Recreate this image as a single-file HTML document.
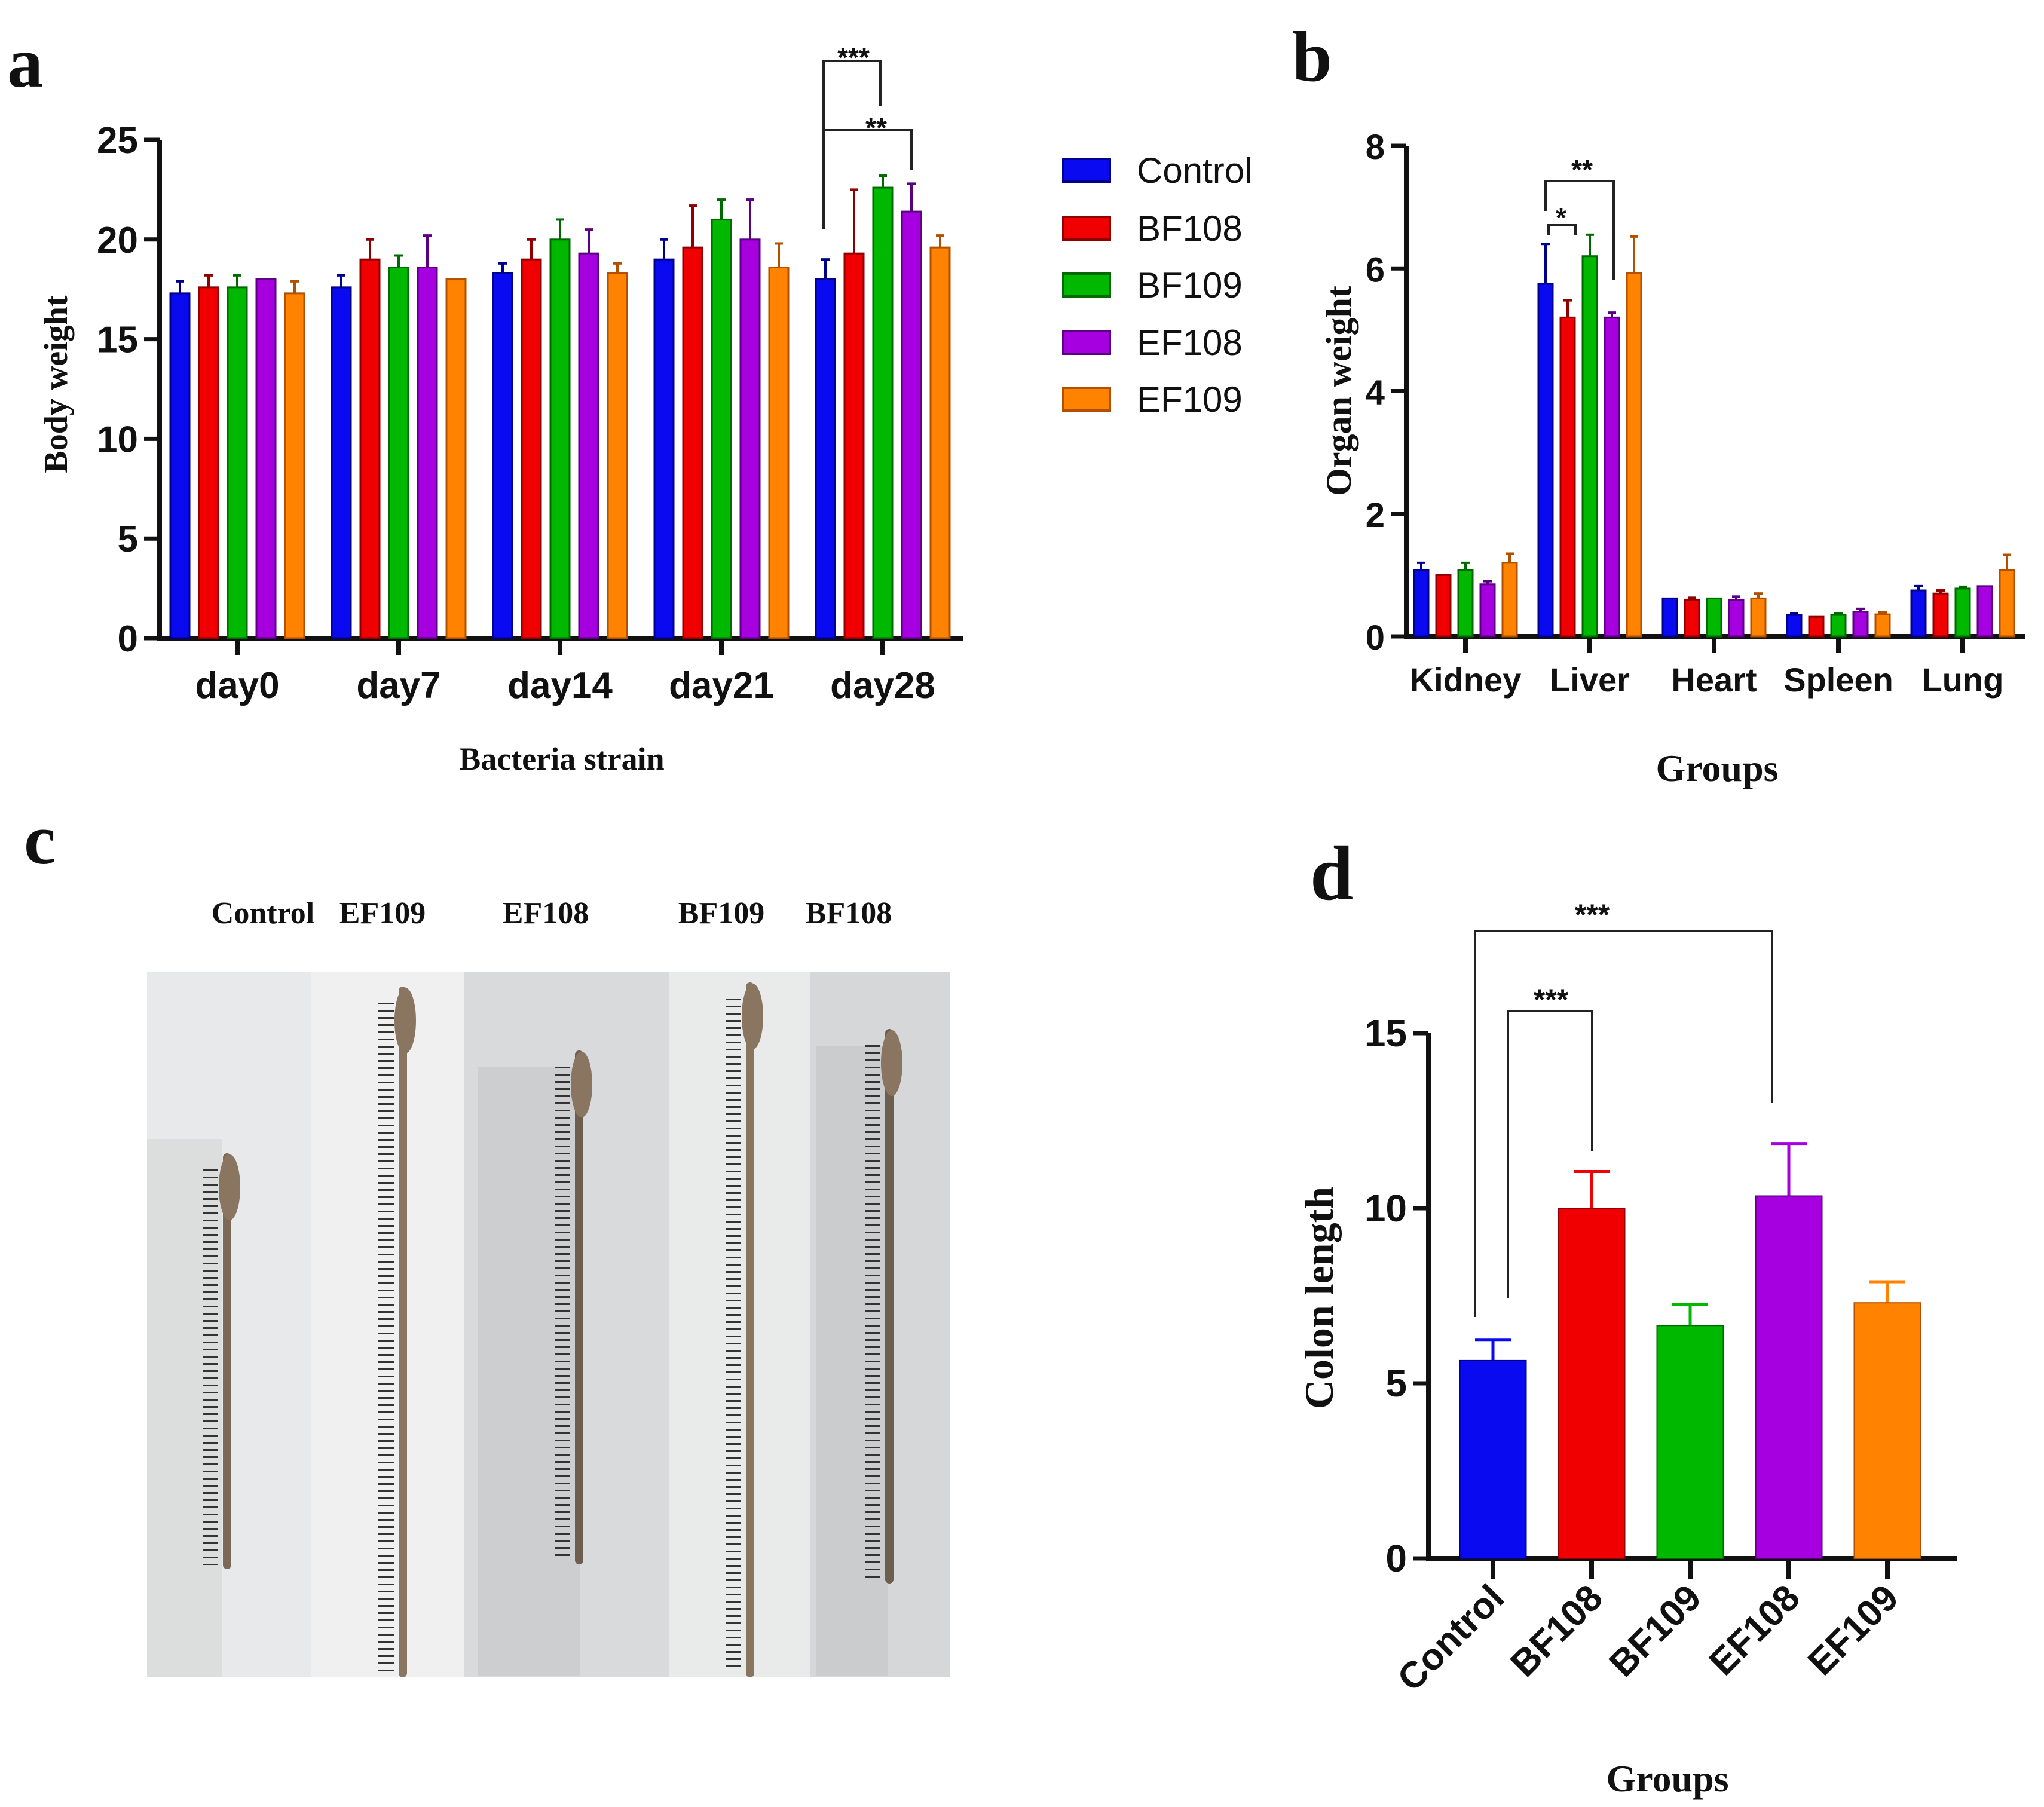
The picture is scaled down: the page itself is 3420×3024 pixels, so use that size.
<!DOCTYPE html>
<html><head><meta charset="utf-8"><style>
html,body{margin:0;padding:0;background:#fff;}
svg{display:block;}
.tick{font-family:"Liberation Sans",sans-serif;font-weight:bold;fill:#111;}
.ser{font-family:"Liberation Serif",serif;font-weight:bold;fill:#111;}
</style></head><body>
<svg id="fig" width="3420" height="3024" viewBox="0 0 3420 3024" xmlns="http://www.w3.org/2000/svg">
<rect width="3420" height="3024" fill="#fff"/>
<text class="ser" x="12" y="145" font-size="120">a</text>
<text class="ser" x="2162" y="135" font-size="120">b</text>
<text class="ser" x="40" y="1445" font-size="120">c</text>
<text class="ser" x="2192" y="1505" font-size="130">d</text>
<g id="gc"></g>
<g id="ga"></g>
<g id="gb"></g>
<g id="gd"></g>
</svg>
<script>
const groupNames = ["Control","BF108","BF109","EF108","EF109"];
const colors = ["#0a0af0","#f00000","#00b800","#a600e0","#ff8200"];
const strokeCols = ["#00008a","#900000","#006a00","#5a0080","#b05000"];
// Panel a
const daysA = ["day0","day7","day14","day21","day28"];
const valsA = [[17.3,17.6,17.6,18.0,17.3],[17.6,19.0,18.6,18.6,18.0],[18.3,19.0,20.0,19.3,18.3],[19.0,19.6,21.0,20.0,18.6],[18.0,19.3,22.6,21.4,19.6]];
const errA = [[0.6,0.6,0.6,0,0.6],[0.6,1.0,0.6,1.6,0],[0.5,1.0,1.0,1.2,0.5],[1.0,2.1,1.0,2.0,1.2],[1.0,3.2,0.6,1.4,0.6]];
const ticksA = [0,5,10,15,20,25];
// Panel b
const organs = ["Kidney","Liver","Heart","Spleen","Lung"];
const valsB = [[1.08,1.0,1.08,0.85,1.2],[5.75,5.2,6.2,5.2,5.92],[0.62,0.6,0.62,0.6,0.62],[0.35,0.32,0.35,0.4,0.36],[0.75,0.7,0.78,0.82,1.08]];
const errB = [[0.12,0,0.12,0.05,0.15],[0.65,0.28,0.35,0.08,0.6],[0,0.03,0,0.05,0.08],[0.03,0,0.03,0.05,0.03],[0.07,0.05,0.03,0,0.25]];
const ticksB = [0,2,4,6,8];
// Panel d
const valsD = [5.65,10.0,6.65,10.35,7.3];
const errD = [0.6,1.05,0.6,1.5,0.6];
const ticksD = [0,5,10,15];

const NS="http://www.w3.org/2000/svg";
function mk(parent,tag,attrs,text){const e=document.createElementNS(NS,tag);for(const k in attrs)e.setAttribute(k,attrs[k]);if(text!==undefined)e.textContent=text;parent.appendChild(e);return e;}

function groupedChart(g,cfg){
  const y=v=>cfg.y0-(v/cfg.ymax)*(cfg.y0-cfg.ytop);
  const ax=mk(g,'path',{d:`M${cfg.x0} ${cfg.ytop} V${cfg.y0} H${cfg.xend}`,stroke:'#111','stroke-width':8,fill:'none'});
  
  
  cfg.ticks.forEach(t=>{
    mk(g,'line',{x1:cfg.x0-26,x2:cfg.x0,y1:y(t),y2:y(t),stroke:'#111','stroke-width':7});
    const tl=mk(g,'text',{class:'tick',x:cfg.x0-36,y:y(t)+22,'font-size':cfg.tfs,'text-anchor':'end'},t);
    
    
  });
  cfg.cats.forEach((c,i)=>{
    const cx=cfg.c0+i*cfg.cstep;
    mk(g,'line',{x1:cx,x2:cx,y1:cfg.y0,y2:cfg.y0+28,stroke:'#111','stroke-width':8});
    const cl=mk(g,'text',{class:'tick',x:cx,y:cfg.y0+cfg.catDy,'font-size':cfg.cfs,'text-anchor':'middle'},c);
    
    
    cfg.vals[i].forEach((v,j)=>{
      const bx=cx+(j-2)*cfg.pitch-cfg.bw/2;
      const e=cfg.errs[i][j];
      if(e>0){
        mk(g,'line',{x1:bx+cfg.bw/2,x2:bx+cfg.bw/2,y1:y(v),y2:y(v+e),stroke:strokeCols[j],'stroke-width':4});
        mk(g,'line',{x1:bx+cfg.bw/2-7,x2:bx+cfg.bw/2+7,y1:y(v+e),y2:y(v+e),stroke:strokeCols[j],'stroke-width':4});
      }
      const r=mk(g,'rect',{x:bx,y:y(v),width:cfg.bw,height:cfg.y0-y(v),fill:colors[j],stroke:strokeCols[j],'stroke-width':3});
      
      
    });
  });
}
function bracket(g,x1,x2,ytop,yl,yr,label,lx,ly,fs){
  mk(g,'path',{d:`M${x1} ${yl} V${ytop} H${x2} V${yr}`,stroke:'#222','stroke-width':4,fill:'none'});
  const t=mk(g,'text',{class:'tick',x:lx,y:ly,'font-size':fs,'text-anchor':'middle'},label);
  
  
}

// Panel a
const ga=document.getElementById('ga');
groupedChart(ga,{x0:267,xend:1611,ytop:234,y0:1068,ymax:25,ticks:ticksA,cats:daysA,vals:valsA,errs:errA,c0:397,cstep:270,pitch:48,bw:32,tfs:62,cfs:62,catDy:100});
bracket(ga,1378,1473,102,383,177,"***",1428,112,46);
bracket(ga,1378,1525,218,383,284,"**",1466,230,46);
let t=mk(ga,'text',{class:'ser',x:940,y:1288,'font-size':54,'text-anchor':'middle'},'Bacteria strain');

t=mk(ga,'text',{class:'ser',x:0,y:0,'font-size':56,'text-anchor':'middle',transform:'translate(112,643) rotate(-90)'},'Body weight');

const legYs=[285,382,477,573,668];
groupNames.forEach((n,j)=>{
  const s=mk(ga,'rect',{x:1779,y:legYs[j]-19,width:78,height:38,fill:colors[j],stroke:strokeCols[j],'stroke-width':4});
  
  
  const lt=mk(ga,'text',{x:1902,y:legYs[j]+21,'font-size':60,'font-family':'Liberation Sans, sans-serif',fill:'#111'},n);
  
  
});

// Panel b
const gb=document.getElementById('gb');
groupedChart(gb,{x0:2353,xend:3388,ytop:244,y0:1065,ymax:8,ticks:ticksB,cats:organs,vals:valsB,errs:errB,c0:2452,cstep:208,pitch:37,bw:24,tfs:58,cfs:56,catDy:92});
bracket(gb,2586,2700,303,353,469,"**",2647,300,46);
bracket(gb,2591,2636,377,394,394,"*",2612,380,46);
t=mk(gb,'text',{class:'ser',x:2873,y:1307,'font-size':64,'text-anchor':'middle'},'Groups');

t=mk(gb,'text',{class:'ser',x:0,y:0,'font-size':60,'text-anchor':'middle',transform:'translate(2260,654) rotate(-90)'},'Organ weight');


// Panel d
const gd=document.getElementById('gd');
(function(){
  const x0=2390,xend=3275,ytop=1729,y0=2608,ymax=15,c0=2498,cstep=165,bw=111;
  const y=v=>y0-(v/ymax)*(y0-ytop);
  const ax=mk(gd,'path',{d:`M${x0} ${ytop} V${y0} H${xend}`,stroke:'#111','stroke-width':8,fill:'none'});
  
  ticksD.forEach(tk=>{
    mk(gd,'line',{x1:x0-26,x2:x0,y1:y(tk),y2:y(tk),stroke:'#111','stroke-width':7});
    const tl=mk(gd,'text',{class:'tick',x:x0-36,y:y(tk)+22,'font-size':64,'text-anchor':'end'},tk);
    
  });
  groupNames.forEach((n,i)=>{
    const cx=c0+i*cstep;
    mk(gd,'line',{x1:cx,x2:cx,y1:y0,y2:y0+34,stroke:'#111','stroke-width':8});
    const e=errD[i],v=valsD[i];
    mk(gd,'line',{x1:cx,x2:cx,y1:y(v),y2:y(v+e),stroke:colors[i],'stroke-width':5});
    mk(gd,'line',{x1:cx-30,x2:cx+30,y1:y(v+e),y2:y(v+e),stroke:colors[i],'stroke-width':5});
    const r=mk(gd,'rect',{x:cx-bw/2,y:y(v),width:bw,height:y0-y(v),fill:colors[i],stroke:strokeCols[i],'stroke-width':2});
    
    const tl=mk(gd,'text',{class:'tick',x:0,y:0,'font-size':62,'text-anchor':'end',transform:`translate(${cx+22},${y0+70}) rotate(-45)`},n);
    
  });
})();
bracket(gd,2468,2965,1558,2204,1846,"***",2664,1548,50);
bracket(gd,2523,2664,1692,2172,1926,"***",2595,1690,50);
t=mk(gd,'text',{class:'ser',x:2790,y:2998,'font-size':64,'text-anchor':'middle'},'Groups');

t=mk(gd,'text',{class:'ser',x:0,y:0,'font-size':68,'text-anchor':'middle',transform:'translate(2230,2172) rotate(-90)'},'Colon length');


// Panel c photo (illustrative)
const gc=document.getElementById('gc');
const photoLabels=[["Control",440],["EF109",640],["EF108",913],["BF109",1207],["BF108",1420]];
photoLabels.forEach(p=>{
  const l=mk(gc,'text',{class:'ser',x:p[1],y:1545,'font-size':52,'text-anchor':'middle'},p[0]);
  
});
const strips=[[246,520,'#e8e9ea'],[520,776,'#f0f0f0'],[776,1119,'#d9dadb'],[1119,1356,'#e9eaea'],[1356,1590,'#d6d7d8']];
strips.forEach(s=>{const r=mk(gc,'rect',{x:s[0],y:1627,width:s[1]-s[0],height:1180,fill:s[2]});});
mk(gc,'rect',{x:246,y:1906,width:126,height:900,fill:'#dcdddd'});
mk(gc,'rect',{x:800,y:1785,width:170,height:1020,fill:'#cdcecf'});
mk(gc,'rect',{x:1365,y:1750,width:120,height:1055,fill:'#cbcccd'});
const colons=[[380,1937,2619,'#7c6a58'],[674,1658,2800,'#8a7560'],[969,1765,2611,'#6e5e50'],[1255,1651,2800,'#8a7560'],[1488,1729,2643,'#6e5e50']];
colons.forEach(c=>{
  mk(gc,'line',{x1:c[0]-28,x2:c[0]-28,y1:c[1]+20,y2:c[2],stroke:'#333','stroke-width':26,'stroke-dasharray':'3 9'});
  const cl=mk(gc,'line',{x1:c[0],x2:c[0],y1:c[1],y2:c[2],stroke:c[3],'stroke-width':14,'stroke-linecap':'round'});
  
  mk(gc,'ellipse',{cx:c[0]+4,cy:c[1]+50,rx:18,ry:55,fill:'#8a7560'});
});
</script>
</body></html>
